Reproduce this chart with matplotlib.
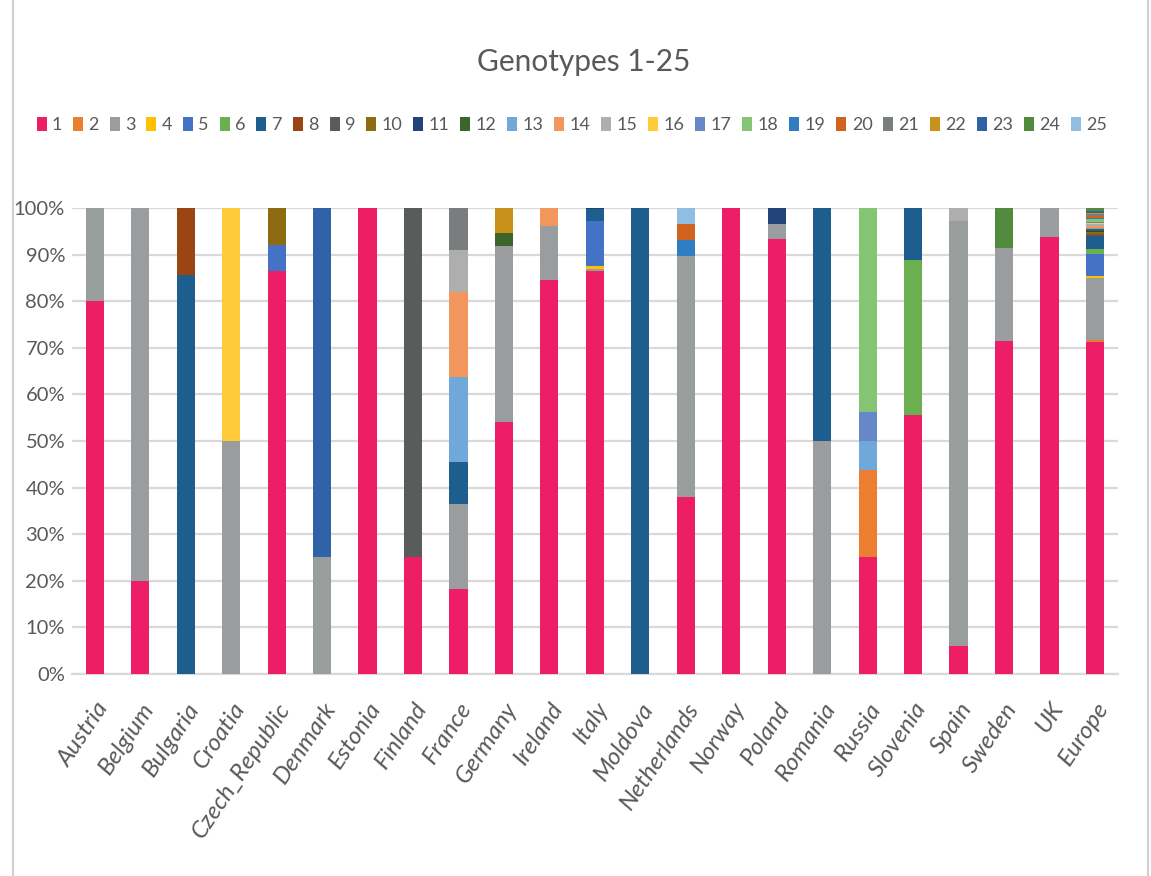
import matplotlib
matplotlib.use("Agg")
import matplotlib.pyplot as plt
import matplotlib.transforms as mtransforms
from matplotlib.patches import Patch
from matplotlib.lines import Line2D
import numpy as np

countries = ["Austria", "Belgium", "Bulgaria", "Croatia", "Czech_Republic", "Denmark",
             "Estonia", "Finland", "France", "Germany", "Ireland", "Italy", "Moldova",
             "Netherlands", "Norway", "Poland", "Romania", "Russia", "Slovenia", "Spain",
             "Sweden", "UK", "Europe"]

# percent of samples per genotype, one value per country (order as above)
gt1 = [80, 20, 0, 0, 86.5, 0, 100, 25, 18.2, 54.1, 84.6, 86.5, 0, 37.9, 100, 93.3, 0, 25, 55.6, 5.9, 71.4, 93.75, 71.2]
gt2 = [0, 0, 0, 0, 0, 0, 0, 0, 0, 0, 0, 0, 0, 0, 0, 0, 0, 18.75, 0, 0, 0, 0, 0.4]
gt3 = [20, 80, 0, 50, 0, 25, 0, 0, 18.2, 37.8, 11.5, 0.5, 0, 51.7, 0, 3.35, 50, 0, 0, 91.2, 20, 6.25, 13.4]
gt4 = [0, 0, 0, 0, 0, 0, 0, 0, 0, 0, 0, 0.6, 0, 0, 0, 0, 0, 0, 0, 0, 0, 0, 0.4]
gt5 = [0, 0, 0, 0, 5.5, 0, 0, 0, 0, 0, 0, 9.5, 0, 0, 0, 0, 0, 0, 0, 0, 0, 0, 4.8]
gt6 = [0, 0, 0, 0, 0, 0, 0, 0, 0, 0, 0, 0, 0, 0, 0, 0, 0, 0, 33.3, 0, 0, 0, 0.9]
gt7 = [0, 0, 85.7, 0, 0, 0, 0, 0, 9.1, 0, 0, 2.6, 100, 0, 0, 0, 50, 0, 11.1, 0, 0, 0, 2.8]
gt8 = [0, 0, 14.3, 0, 0, 0, 0, 0, 0, 0, 0, 0, 0, 0, 0, 0, 0, 0, 0, 0, 0, 0, 0.3]
gt9 = [0, 0, 0, 0, 0, 0, 0, 75, 0, 0, 0, 0, 0, 0, 0, 0, 0, 0, 0, 0, 0, 0, 0.25]
gt10 = [0, 0, 0, 0, 8, 0, 0, 0, 0, 0, 0, 0, 0, 0, 0, 0, 0, 0, 0, 0, 0, 0, 0.35]
gt11 = [0, 0, 0, 0, 0, 0, 0, 0, 0, 0, 0, 0.3, 0, 0, 0, 3.35, 0, 0, 0, 0, 0, 0, 0.25]
gt12 = [0, 0, 0, 0, 0, 0, 0, 0, 0, 2.7, 0, 0, 0, 0, 0, 0, 0, 0, 0, 0, 0, 0, 0.35]
gt13 = [0, 0, 0, 0, 0, 0, 0, 0, 18.2, 0, 0, 0, 0, 0, 0, 0, 0, 6.25, 0, 0, 0, 0, 0.3]
gt14 = [0, 0, 0, 0, 0, 0, 0, 0, 18.2, 0, 3.9, 0, 0, 0, 0, 0, 0, 0, 0, 0, 0, 0, 0.45]
gt15 = [0, 0, 0, 0, 0, 0, 0, 0, 9.1, 0, 0, 0, 0, 0, 0, 0, 0, 0, 0, 2.9, 0, 0, 0.35]
gt16 = [0, 0, 0, 50, 0, 0, 0, 0, 0, 0, 0, 0, 0, 0, 0, 0, 0, 0, 0, 0, 0, 0, 0.2]
gt17 = [0, 0, 0, 0, 0, 0, 0, 0, 0, 0, 0, 0, 0, 0, 0, 0, 0, 6.25, 0, 0, 0, 0, 0.35]
gt18 = [0, 0, 0, 0, 0, 0, 0, 0, 0, 0, 0, 0, 0, 0, 0, 0, 0, 43.75, 0, 0, 0, 0, 0.5]
gt19 = [0, 0, 0, 0, 0, 0, 0, 0, 0, 0, 0, 0, 0, 3.45, 0, 0, 0, 0, 0, 0, 0, 0, 0.35]
gt20 = [0, 0, 0, 0, 0, 0, 0, 0, 0, 0, 0, 0, 0, 3.45, 0, 0, 0, 0, 0, 0, 0, 0, 0.35]
gt21 = [0, 0, 0, 0, 0, 0, 0, 0, 9.1, 0, 0, 0, 0, 0, 0, 0, 0, 0, 0, 0, 0, 0, 0.35]
gt22 = [0, 0, 0, 0, 0, 0, 0, 0, 0, 5.4, 0, 0, 0, 0, 0, 0, 0, 0, 0, 0, 0, 0, 0.35]
gt23 = [0, 0, 0, 0, 0, 75, 0, 0, 0, 0, 0, 0, 0, 0, 0, 0, 0, 0, 0, 0, 0, 0, 0.35]
gt24 = [0, 0, 0, 0, 0, 0, 0, 0, 0, 0, 0, 0, 0, 0, 0, 0, 0, 0, 0, 0, 8.6, 0, 0.7]
gt25 = [0, 0, 0, 0, 0, 0, 0, 0, 0, 0, 0, 0, 0, 3.5, 0, 0, 0, 0, 0, 0, 0, 0, 0]

genotypes = [gt1, gt2, gt3, gt4, gt5, gt6, gt7, gt8, gt9, gt10, gt11, gt12, gt13,
             gt14, gt15, gt16, gt17, gt18, gt19, gt20, gt21, gt22, gt23, gt24, gt25]
labels = [str(i) for i in range(1, 26)]

colors = ["#ED1E65", "#ED7D31", "#9A9D9E", "#FFC000", "#4472C4", "#6AAF50", "#1D5E8E",
          "#9B4514", "#595C5D", "#8E6B12", "#22437A", "#3B652B", "#70A8DA", "#F2965E",
          "#AEAEAE", "#FFCB3A", "#6688C8", "#84C474", "#2E7EC1", "#D2631F", "#7A7D7E",
          "#C8921A", "#3062A8", "#528A3E", "#8EBEE4"]

plt.rcParams["font.family"] = ["Lato", "DejaVu Sans"]
txt = "#595959"
grid_c = "#D9D9D9"

fig = plt.figure(figsize=(11.51, 8.76), dpi=100)
ax = fig.add_axes([0.0626, 0.2306, 0.9084, 0.532])

x = np.arange(len(countries))
bottom = np.zeros(len(countries))
for vals, c in zip(genotypes, colors):
    v = np.array(vals) / 100.0
    ax.bar(x, v, width=0.4, bottom=bottom, color=c, linewidth=0, zorder=3)
    bottom += v

ax.set_xlim(-0.5, len(countries) - 0.5)
ax.set_ylim(0, 1)
ax.set_yticks(np.arange(0, 1.01, 0.1))
ax.set_yticklabels([f"{int(round(t * 100))}%" for t in np.arange(0, 1.01, 0.1)])
ax.yaxis.grid(True, color=grid_c, linewidth=1.6, zorder=0)
ax.set_axisbelow(True)
for s in ["top", "right", "left"]:
    ax.spines[s].set_visible(False)
ax.spines["bottom"].set_color(grid_c)
ax.spines["bottom"].set_linewidth(1.6)
ax.tick_params(axis="both", length=0, colors=txt)
ax.tick_params(axis="y", labelsize=14.5, pad=5)
ax.set_xticks(x)
ax.set_xticklabels(countries, rotation=56, ha="right", va="center",
                   rotation_mode="anchor", fontsize=17.5, style="italic", color=txt)
ax.tick_params(axis="x", pad=22)
shift = mtransforms.ScaledTranslation(0.09, 0, fig.dpi_scale_trans)
for lab in ax.get_xticklabels():
    lab.set_transform(lab.get_transform() + shift)

fig.text(0.507, 0.929, "Genotypes 1-25", ha="center", va="center",
         fontsize=21.5, color=txt)

handles = [Patch(facecolor=c, edgecolor="none") for c in colors]
leg = fig.legend(handles, labels, loc="center", bbox_to_anchor=(0.497, 0.857),
                 ncol=25, frameon=False, fontsize=13, handlelength=0.55,
                 handleheight=0.75, handletextpad=0.3, columnspacing=0.6,
                 borderpad=0, borderaxespad=0)
for t in leg.get_texts():
    t.set_color(txt)

# chart area border (left and right edges)
fig.add_artist(Line2D([0.0113, 0.0113], [0, 1], color="#D0D0D0", linewidth=1.5,
                      transform=fig.transFigure))
fig.add_artist(Line2D([0.9975, 0.9975], [0, 1], color="#D0D0D0", linewidth=1.5,
                      transform=fig.transFigure))

fig.savefig("out.png", dpi=100)
